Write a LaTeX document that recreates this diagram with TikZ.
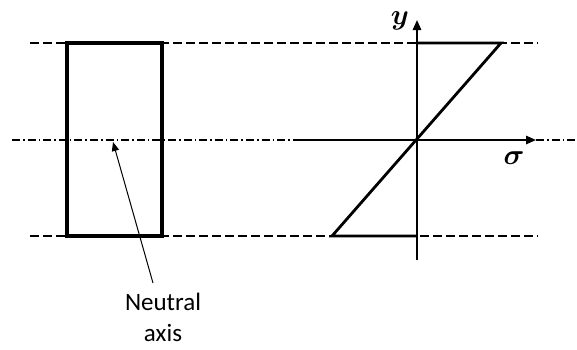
\documentclass[tikz,border=0pt]{standalone}
\usepackage{fontspec}
\setmainfont{Carlito}
\usepackage{tikz}
\usetikzlibrary{arrows.meta,positioning}

\begin{document}
\begin{tikzpicture}[
    x=0.5pt, y=-0.5pt,
    section/.style={draw=black, line width=1.6pt},
    stress/.style={draw=black, line width=1.4pt, line join=miter},
    axis/.style={-{Triangle[length=5pt,width=4.2pt]}, line width=0.9pt},
    level/.style={line width=0.6pt, dash pattern=on 4.5pt off 2pt},
    neutral/.style={line width=0.6pt, dash pattern=on 4pt off 1.5pt on 0.8pt off 1.5pt},
    pointer/.style={-{Triangle[length=4.5pt,width=3.6pt]}, line width=0.5pt},
    note/.style={font=\fontsize{12.5}{15.5}\selectfont, align=center, inner sep=1pt},
    symb/.style={font=\fontsize{15.5}{18}\selectfont\boldmath, inner sep=0pt}
]
    \useasboundingbox (0,0) rectangle (577,349);

    % reference points
    \coordinate (O)     at (417,140);
    \coordinate (ytop)  at (417,20);
    \coordinate (ybot)  at (417,260);
    \coordinate (xleft) at (297,140);
    \coordinate (xtip)  at (536,140);
    \coordinate (stop)  at (501,43);
    \coordinate (sbot)  at (332,236);
    \coordinate (na)    at (113,142);
    \coordinate (tail)  at (153,283);

    % top and bottom fibres
    \draw[level] (30,43)  -- (538,43);
    \draw[level] (30,236) -- (538,236);

    % neutral axis
    \draw[neutral] (12,140) -- (xleft);
    \draw[neutral] (xtip) -- (577,140);

    % cross section
    \draw[section] (67,43) rectangle (162,236);

    % stress axes
    \draw[axis] (ybot) -- (ytop);
    \draw[axis] (xleft) -- (xtip);
    \node[symb] (ylab) at (400,21)  {$y$};
    \node[symb] (slab) at (514,158) {$\sigma$};

    % stress distribution
    \draw[stress] (ytop |- stop) -- (stop) -- (sbot) -- (ytop |- sbot);

    % label
    \node[note, anchor=north] (label) at (163,291) {Neutral\\axis};
    \draw[pointer] (tail) -- (na);

\end{tikzpicture}
\end{document}
